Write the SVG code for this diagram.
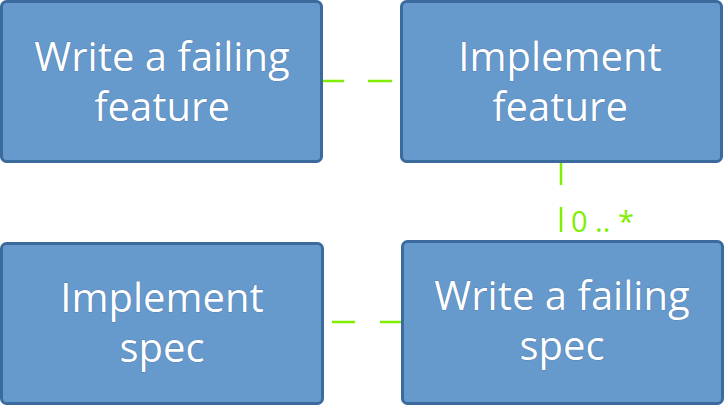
<svg xmlns="http://www.w3.org/2000/svg" width="725" height="406" viewBox="0 0 725 406">
<style>
.box{fill:#6699cc;stroke:#3b6a9c;stroke-width:3}
.t{font-family:"Open Sans","Noto Sans",sans-serif;font-size:40px;fill:#fff;text-anchor:middle;stroke:#3b6a9c;stroke-width:0.6;paint-order:stroke}
.c{stroke:#80ee00;stroke-width:2.5;fill:none}
.lbl{font-family:"Open Sans","Noto Sans",sans-serif;font-size:29px;fill:#80ee00}
</style>
<rect width="725" height="406" fill="#fff"/>
<g id="connectors">
<path class="c" d="M322 81H344M368 81H392"/>
<path class="c" d="M332 322H355M380 322H402"/>
<path class="c" d="M561 162V185M561 207V232"/>
<text class="lbl" x="571" y="232">0 .. *</text>
</g>
<g id="n1"><rect class="box" x="1.5" y="1.5" width="320" height="160" rx="5"/>
<text class="t" x="162" y="71">Write a failing</text><text class="t" x="162" y="121">feature</text></g>
<g id="n2"><rect class="box" x="401.5" y="1.5" width="320" height="160" rx="5"/>
<text class="t" x="560" y="71">Implement</text><text class="t" x="560" y="121">feature</text></g>
<g id="n3"><rect class="box" x="1.5" y="243.5" width="321" height="160" rx="5"/>
<text class="t" x="162" y="312">Implement</text><text class="t" x="162" y="362">spec</text></g>
<g id="n4"><rect class="box" x="402.5" y="241.5" width="320" height="162" rx="5"/>
<text class="t" x="562" y="310">Write a failing</text><text class="t" x="562" y="360">spec</text></g>
</svg>
